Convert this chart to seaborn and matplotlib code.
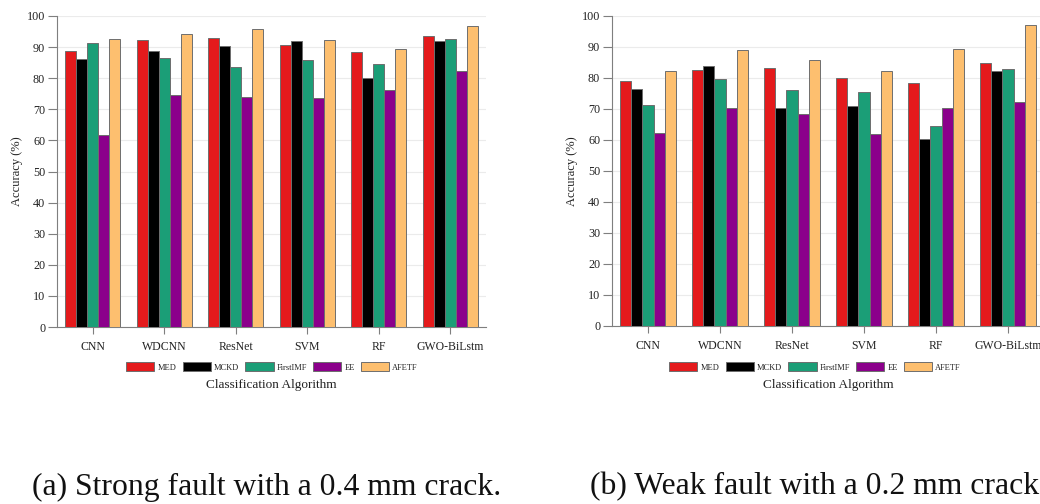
import matplotlib
matplotlib.use("Agg")
import matplotlib.pyplot as plt
from matplotlib.patches import Patch
import seaborn as sns
import pandas as pd

algorithms = ["CNN", "WDCNN", "ResNet", "SVM", "RF", "GWO-BiLstm"]
methods = ["MED", "MCKD", "FirstIMF", "EE", "AFETF"]
colors = ["#e41a1c", "#000000", "#1b9e77", "#8b008b", "#fdbf6f"]

# Accuracy (%) for the strong fault (0.4 mm crack)
strong_med = [88.9, 92.2, 93.0, 90.7, 88.4, 93.6]
strong_mckd = [86.3, 88.7, 90.2, 91.9, 80.0, 92.1]
strong_firstimf = [91.2, 86.6, 83.7, 85.9, 84.5, 92.6]
strong_ee = [61.7, 74.5, 74.1, 73.5, 76.1, 82.3]
strong_afetf = [92.6, 94.2, 95.8, 92.2, 89.3, 96.8]

# Accuracy (%) for the weak fault (0.2 mm crack)
weak_med = [79.1, 82.5, 83.3, 80.1, 78.5, 84.7]
weak_mckd = [76.5, 83.7, 70.2, 71.0, 60.2, 82.2]
weak_firstimf = [71.3, 79.7, 76.2, 75.4, 64.4, 82.9]
weak_ee = [62.3, 70.4, 68.4, 62.0, 70.2, 72.3]
weak_afetf = [82.2, 89.0, 85.9, 82.2, 89.2, 97.1]

captions = ["(a) Strong fault with a 0.4 mm crack.",
            "(b) Weak fault with a 0.2 mm crack."]


def long_frame(series):
    rows = []
    for method, values in zip(methods, series):
        for alg, v in zip(algorithms, values):
            rows.append({"Algorithm": alg, "Method": method, "Accuracy": v})
    return pd.DataFrame(rows)


strong_df = long_frame([strong_med, strong_mckd, strong_firstimf, strong_ee, strong_afetf])
weak_df = long_frame([weak_med, weak_mckd, weak_firstimf, weak_ee, weak_afetf])

sns.set_theme(style="white")
plt.rcParams["font.family"] = ["Liberation Serif", "DejaVu Serif"]
plt.rcParams["text.color"] = "#222222"
plt.rcParams["axes.labelcolor"] = "#222222"
plt.rcParams["xtick.color"] = "#7f7f7f"
plt.rcParams["ytick.color"] = "#7f7f7f"

W, H = 1040, 504
fig = plt.figure(figsize=(W / 100, H / 100), dpi=100)
fig.patch.set_facecolor("white")


def px_axes(x0, y_top, x1, y_bottom):
    return fig.add_axes([x0 / W, 1 - y_bottom / H, (x1 - x0) / W, (y_bottom - y_top) / H])


panels = [
    (px_axes(57, 16, 486, 327), strong_df, 272, 32),
    (px_axes(612, 16, 1044, 325.7), weak_df, 815, 590),
]

edge = "#6e6e6e"
for ax, df, legend_x, caption_x in panels:
    sns.barplot(data=df, x="Algorithm", y="Accuracy", hue="Method",
                order=algorithms, hue_order=methods, palette=colors, saturation=1,
                width=0.77, edgecolor=edge, linewidth=0.7, errorbar=None,
                legend=False, ax=ax, zorder=3)
    ax.set_xlim(-0.5, 5.5)
    ax.set_ylim(0, 100)
    ax.set_yticks(range(0, 101, 10))
    ax.grid(axis="y", color="#ebebeb", linewidth=0.8, zorder=0)
    ax.set_axisbelow(True)
    for side in ("top", "right"):
        ax.spines[side].set_visible(False)
    for side in ("left", "bottom"):
        ax.spines[side].set_color("#7f7f7f")
        ax.spines[side].set_linewidth(0.8)
    ax.tick_params(axis="y", direction="out", length=6.5, width=0.8, pad=2,
                   labelsize=8.7, labelcolor="#222222", left=True)
    ax.tick_params(axis="x", direction="out", length=5, width=0.8, pad=5,
                   labelsize=8.5, labelcolor="#222222", bottom=True)

    pos = ax.get_position()
    ax_h = pos.height * H
    ax_w = pos.width * W
    ax_bottom = (1 - pos.y0) * H

    ax.set_xlabel("Classification Algorithm", fontsize=9.5)
    ax.xaxis.label.set_verticalalignment("center")
    ax.xaxis.set_label_coords(0.5, (ax_bottom - 385) / ax_h)

    ax.set_ylabel("Accuracy (%)", fontsize=9)
    ax.yaxis.label.set_verticalalignment("center")
    ax.yaxis.set_label_coords(-40 / ax_w, 0.5)

    handles = [Patch(facecolor=c, edgecolor=edge, linewidth=0.7) for c in colors]
    fig.legend(handles, methods, loc="center", bbox_to_anchor=(legend_x / W, 1 - 367 / H),
               ncol=5, frameon=False, fontsize=6, handlelength=3.4, handleheight=1.2,
               handletextpad=0.35, columnspacing=0.75, borderaxespad=0)

for (ax, df, legend_x, caption_x), caption in zip(panels, captions):
    fig.text(caption_x / W, 1 - 487 / H, caption, ha="left", va="center",
             fontsize=22.8, color="#111111")

fig.savefig("out.png", dpi=100, facecolor="white")
